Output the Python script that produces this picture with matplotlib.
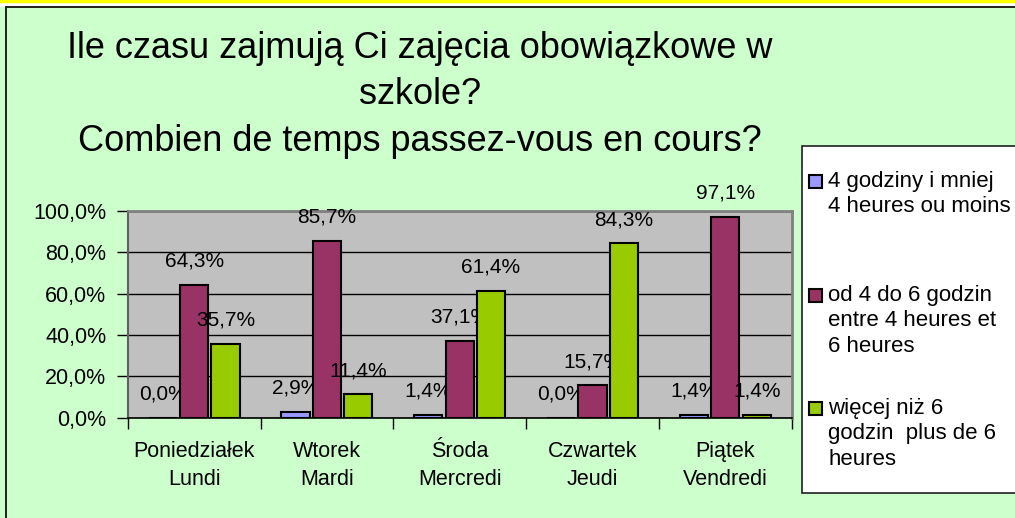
import matplotlib
matplotlib.use("Agg")
import matplotlib.pyplot as plt
import numpy as np
from matplotlib.patches import Rectangle
from matplotlib.lines import Line2D

plt.rcParams['font.family'] = ['Liberation Sans', 'DejaVu Sans']

# data
days = ["Poniedziałek\nLundi", "Wtorek\nMardi", "Środa\nMercredi",
        "Czwartek\nJeudi", "Piątek\nVendredi"]
series_labels = ["4 godziny i mniej\n4 heures ou moins",
                 "od 4 do 6 godzin\nentre 4 heures et\n6 heures",
                 "więcej niż 6\ngodzin  plus de 6\nheures"]
under4 = [0.0, 2.9, 1.4, 0.0, 1.4]
from4to6 = [64.3, 85.7, 37.1, 15.7, 97.1]
over6 = [35.7, 11.4, 61.4, 84.3, 1.4]
colors = ["#9999FF", "#993366", "#99CC00"]
yticks = [0, 20, 40, 60, 80, 100]

W, H = 1015, 518
fig = plt.figure(figsize=(W / 100, H / 100), dpi=100)
fig.patch.set_facecolor("#CCFFCC")

# white strip + yellow line on top, then the dark chart frame
fig.add_artist(Rectangle((0, 1 - 7 / H), 1.0, 7 / H, transform=fig.transFigure,
                         facecolor="white", edgecolor="none"))
fig.add_artist(Line2D([0, 1], [1 - 1 / H, 1 - 1 / H], transform=fig.transFigure,
                      color="#FFFF00", lw=2.5))
fig.add_artist(Rectangle((6 / W, -0.01), 1.0, 1.01 - 7 / H, transform=fig.transFigure,
                         facecolor="none", edgecolor="#202020", lw=1.4))

ax = fig.add_axes([127.7 / W, 1 - 417.7 / H, (791.7 - 127.7) / W, (417.7 - 211) / H])
ax.set_facecolor("#C0C0C0")

x = np.arange(len(days))
bw = 0.212
step = 0.236
all_series = [under4, from4to6, over6]
for i, (vals, c) in enumerate(zip(all_series, colors)):
    pos = x + (i - 1) * step
    bars = ax.bar(pos, vals, width=bw, color=c, edgecolor="black", lw=1.5, zorder=3)
    for b, v in zip(bars, vals):
        ax.annotate(f"{v:.1f}%".replace(".", ","),
                    (b.get_x() + b.get_width() / 2, v),
                    xytext=(0, 17), textcoords="offset points",
                    ha="center", va="center", fontsize=15, annotation_clip=False)

ax.set_xlim(-0.5, len(days) - 0.5)
ax.set_ylim(0, 100)
ax.set_yticks(yticks)
ax.set_yticklabels([f"{t:.1f}%".replace(".", ",") for t in yticks], fontsize=15.5)
ax.yaxis.grid(True, color="black", lw=1, zorder=0)
ax.set_axisbelow(True)

ax.set_xticks(np.arange(-0.5, len(days), 1.0))
ax.set_xticklabels([])
ax.set_xticks(x, minor=True)
ax.set_xticklabels(days, minor=True, fontsize=15.5, linespacing=1.4)
ax.tick_params(axis="x", which="minor", length=0, pad=17)
ax.tick_params(axis="x", which="major", length=8, width=1, direction="out")
ax.tick_params(axis="y", length=8, width=1, direction="out", pad=7.5)

for s in ["top", "right"]:
    ax.spines[s].set_color("#808080")
    ax.spines[s].set_linewidth(2)
ax.spines["left"].set_color("#606060")
ax.spines["left"].set_linewidth(1.5)
ax.spines["bottom"].set_color("black")
ax.spines["bottom"].set_linewidth(1.2)

# title
fig.text(420 / W, 1 - 95 / H,
         "Ile czasu zajmują Ci zajęcia obowiązkowe w\nszkole?\nCombien de temps passez-vous en cours?",
         ha="center", va="center", fontsize=26, linespacing=1.42)

# legend box
fig.add_artist(Rectangle((801.7 / W, 1 - 493 / H), 1.0, (493 - 146) / H,
                         transform=fig.transFigure, facecolor="white",
                         edgecolor="#202020", lw=1.2))
entry_y = [181, 295, 408]
for lab, c, yy in zip(series_labels, colors, entry_y):
    fig.add_artist(Rectangle((809 / W, 1 - (yy + 6.5) / H), 13 / W, 13 / H,
                             transform=fig.transFigure, facecolor=c,
                             edgecolor="black", lw=1.5))
    fig.text(828 / W, 1 - (yy - 10) / H, lab, ha="left", va="top",
             fontsize=16, linespacing=1.27)

fig.savefig("out.png", dpi=100, facecolor=fig.get_facecolor())
